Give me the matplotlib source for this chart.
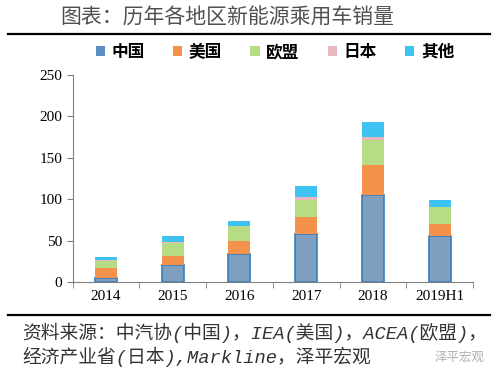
import matplotlib
matplotlib.use("Agg")
import matplotlib.pyplot as plt
from matplotlib.patches import Patch
import numpy as np

plt.rcParams['font.family'] = ['Noto Sans CJK SC', 'DejaVu Sans']

years = ["2014", "2015", "2016", "2017", "2018", "2019H1"]
regions = ["中国", "美国", "欧盟", "日本", "其他"]
china = [5, 21, 34, 58, 105, 56]
usa = [12, 10, 15, 20, 36, 14]
eu = [8, 16, 18, 21, 30, 20]
japan = [1, 1, 1, 4, 4, 1]
other = [4, 7, 6, 13, 18, 8]
yticks = [0, 50, 100, 150, 200, 250]

series = [china, usa, eu, japan, other]
colors = ['#7E9FC0', '#F4924C', '#B6DD86', '#E9B8BC', '#3DC3F2']
edges = ['#3A7DBA', '#F4924C', '#B6DD86', '#E9B8BC', '#3DC3F2']
legend_colors = ['#5B8FC4', '#F4924C', '#B6DD86', '#E9B8BC', '#3DC3F2']

fig = plt.figure(figsize=(5, 3.8), dpi=100)
ax = fig.add_axes([0.145, 0.258, 0.801, 0.545])

x = np.arange(len(years))
bottom = np.zeros(len(years))
for vals, name, c, e in zip(series, regions, colors, edges):
    ax.bar(x, vals, width=0.33, bottom=bottom, color=c, edgecolor=e,
           linewidth=1.2 if name == "中国" else 0)
    bottom += np.array(vals)

ax.set_xlim(-0.5, len(years) - 0.5)
ax.set_ylim(0, 250)
ax.set_yticks(yticks)
ax.set_yticklabels([str(v) for v in yticks], family='Liberation Serif', fontsize=11)
ax.set_xticks(x)
ax.set_xticklabels(years, family='Liberation Serif', fontsize=11)
ax.tick_params(axis='x', length=0, pad=6)
ax.set_xticks(np.arange(-0.5, len(years)), minor=True)
ax.tick_params(axis='x', which='minor', length=4, color='#808080')
ax.tick_params(axis='y', length=4, color='#808080')
for s in ['top', 'right']:
    ax.spines[s].set_visible(False)
for s in ['left', 'bottom']:
    ax.spines[s].set_color('#808080')

handles = [Patch(facecolor=c, edgecolor='none') for c in legend_colors]
fig.legend(handles=handles, labels=regions, loc='center', bbox_to_anchor=(0.55, 0.863),
           ncol=5, frameon=False, handlelength=0.55, handleheight=0.55, handletextpad=0.4,
           columnspacing=1.7, prop={'weight': 'bold', 'size': 12})

fig.text(0.454, 0.953, "图表：历年各地区新能源乘用车销量", ha='center', va='center',
         fontsize=15, color='#505050')
fig.add_artist(plt.Line2D([0.016, 0.98], [0.91, 0.91], color='black', lw=1.6))
fig.add_artist(plt.Line2D([0.016, 0.98], [0.171, 0.171], color='black', lw=1.6))

src_font = ['Liberation Mono', 'Noto Sans CJK SC']
fig.text(0.044, 0.124, "资料来源：中汽协(中国)，IEA(美国)，ACEA(欧盟)，",
         ha='left', va='center', fontsize=13.5, color='#333333', style='italic', family=src_font)
fig.text(0.044, 0.061, "经济产业省(日本),Markline，泽平宏观",
         ha='left', va='center', fontsize=13.5, color='#333333', style='italic', family=src_font)
fig.text(0.97, 0.061, "泽平宏观", ha='right', va='center', fontsize=9, color='#B0B0B0')

fig.savefig("out.png", dpi=100)
